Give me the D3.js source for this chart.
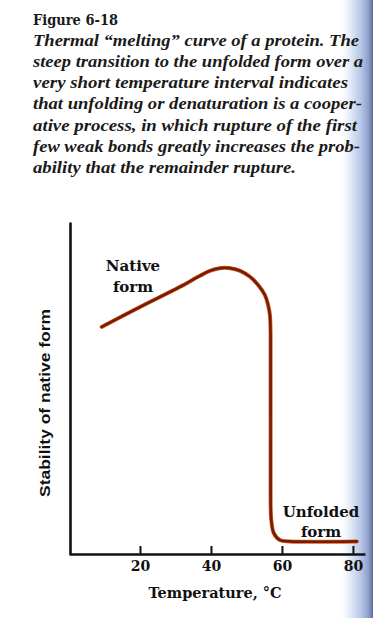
<!DOCTYPE html>
<html>
<head>
<meta charset="utf-8">
<script src="https://cdn.jsdelivr.net/npm/d3@7"></script>
<style>
  html, body { margin: 0; padding: 0; background: #ffffff; }
  svg { display: block; }
</style>
</head>
<body>
<script>
// ---- data ----
const temperature = [9.2, 20.0, 31.3, 36.9, 39.7, 42.5, 45.4, 48.2, 51.0, 53.3, 55.2, 56.1, 56.6, 56.8, 56.8, 57.0, 57.7, 59.4, 62.3, 81.1];
const stability   = [68.4, 74.4, 80.5, 83.8, 85.3, 86.1, 86.1, 85.3, 83.5, 81.0, 78.0, 75.0, 72.0, 66.0, 16.3, 10.2, 6.3, 4.2, 3.8, 3.8];
const tickValues  = [20, 40, 60, 80];
const figureLabel = "Figure 6-18";
const captionLines = [
  "Thermal \u201cmelting\u201d curve of a protein. The",
  "steep transition to the unfolded form over a",
  "very short temperature interval indicates",
  "that unfolding or denaturation is a cooper-",
  "ative process, in which rupture of the first",
  "few weak bonds greatly increases the prob-",
  "ability that the remainder rupture."
];
const captionWidths = [326, 330, 315, 329, 324, 327, 263];
const xTitle = "Temperature, \u00b0C";
const yTitle = "Stability of native form";
const nativeLabel = ["Native", "form"];
const unfoldedLabel = ["Unfolded", "form"];

// ---- chart ----
const W = 373, H = 618;
const svg = d3.select("body").append("svg").attr("width", W).attr("height", H);

const defs = svg.append("defs");
const grad = defs.append("linearGradient").attr("id", "gutter").attr("x1", "0").attr("x2", "1").attr("y1", "0").attr("y2", "0");
[["0%", "#ffffff", 0], ["35%", "#e2eaf7", 1], ["65%", "#b8c7e6", 1], ["88%", "#8c9dcb", 1], ["100%", "#5b6c94", 1]]
  .forEach(([o, c, a]) => grad.append("stop").attr("offset", o).attr("stop-color", c).attr("stop-opacity", a));
svg.append("rect").attr("x", 338).attr("y", 0).attr("width", 35).attr("height", H).attr("fill", "url(#gutter)");

const x = d3.scaleLinear().domain([0, 83.4]).range([69, 365]);
const y = d3.scaleLinear().domain([0, 100]).range([554, 222]);

// caption
const serif = "'DejaVu Serif', 'Liberation Serif', serif";
const capFont = "'Liberation Serif', 'Times New Roman', serif";
svg.append("text").attr("x", 33).attr("y", 25)
  .attr("font-family", serif).attr("font-weight", "bold").attr("font-size", 14)
  .attr("textLength", 85).attr("lengthAdjust", "spacingAndGlyphs")
  .attr("fill", "#1a1a1a").text(figureLabel);
captionLines.forEach((t, i) => {
  svg.append("text").attr("x", 33).attr("y", 45.5 + i * 21.3)
    .attr("font-family", capFont).attr("font-style", "italic").attr("font-weight", "bold")
    .attr("font-size", 16.5)
    .attr("textLength", captionWidths[i]).attr("lengthAdjust", "spacingAndGlyphs")
    .attr("fill", "#1a1a1a").text(t);
});

// axes
const gx = svg.append("g").attr("transform", `translate(0,${y(0)})`)
  .call(d3.axisBottom(x).tickValues(tickValues).tickSize(-8).tickSizeOuter(0).tickPadding(7));
gx.select(".domain").attr("stroke", "#111").attr("stroke-width", 2.6);
gx.selectAll(".tick line").attr("stroke", "#111").attr("stroke-width", 2);
gx.selectAll(".tick text").attr("font-family", serif).attr("font-weight", "bold")
  .attr("font-size", 14).attr("fill", "#111");

const gy = svg.append("g").attr("transform", `translate(${x(0) + 1},0)`)
  .call(d3.axisLeft(y).tickValues([]).tickSizeOuter(0));
gy.select(".domain").attr("stroke", "#111").attr("stroke-width", 2.6);

// axis titles
svg.append("text").attr("x", 215).attr("y", 598).attr("text-anchor", "middle")
  .attr("font-family", serif).attr("font-weight", "bold").attr("font-size", 14.5)
  .attr("fill", "#111").text(xTitle);
svg.append("text").attr("transform", "translate(50,403) rotate(-90)").attr("text-anchor", "middle")
  .attr("font-family", "'Liberation Sans', Arial, sans-serif").attr("font-weight", "bold").attr("font-size", 15)
  .attr("textLength", 188).attr("lengthAdjust", "spacingAndGlyphs")
  .attr("fill", "#111").text(yTitle);

// curve
const pts = temperature.map((t, i) => [t, stability[i]]);
const line = d3.line().x(d => x(d[0])).y(d => y(d[1])).curve(d3.curveCatmullRom.alpha(0.5));
svg.append("path").attr("d", line(pts)).attr("fill", "none")
  .attr("stroke", "#c8672e").attr("stroke-width", 4).attr("stroke-linecap", "round").attr("stroke-linejoin", "round");
svg.append("path").attr("d", line(pts)).attr("fill", "none")
  .attr("stroke", "#7e1a04").attr("stroke-width", 2.6).attr("stroke-linecap", "round").attr("stroke-linejoin", "round");

// curve labels
nativeLabel.forEach((t, i) => {
  svg.append("text").attr("x", 133).attr("y", 271 + i * 20.5).attr("text-anchor", "middle")
    .attr("font-family", serif).attr("font-weight", "bold").attr("font-size", 15)
    .attr("fill", "#111").text(t);
});
unfoldedLabel.forEach((t, i) => {
  svg.append("text").attr("x", 321).attr("y", 517 + i * 20).attr("text-anchor", "middle")
    .attr("font-family", serif).attr("font-weight", "bold").attr("font-size", 15)
    .attr("fill", "#111").text(t);
});
</script>
</body>
</html>
